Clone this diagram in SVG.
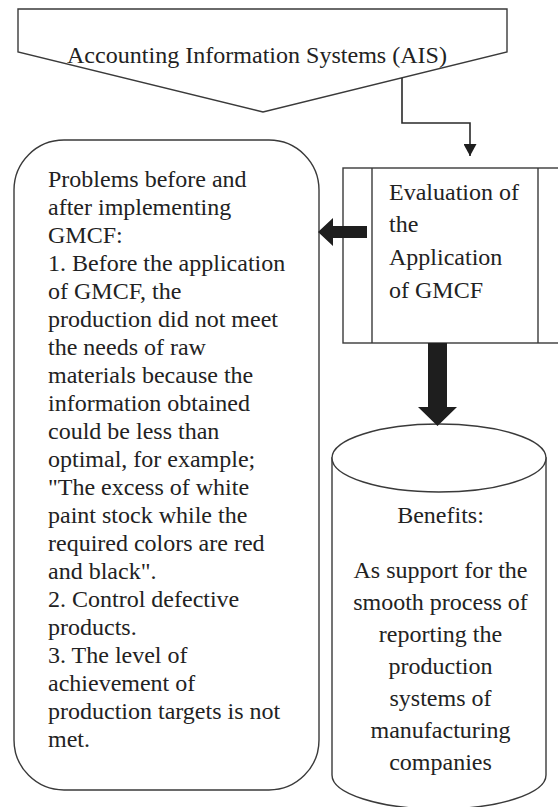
<svg xmlns="http://www.w3.org/2000/svg" width="558" height="807" viewBox="0 0 558 807">
<defs>
<marker id="ah" viewBox="0 0 12 13" refX="12" refY="6.5" markerWidth="12" markerHeight="13" markerUnits="userSpaceOnUse" orient="auto">
<path d="M0,0 L12,6.5 L0,13 Z" fill="#1e1e1e"/>
</marker>
</defs>
<rect width="558" height="807" fill="#ffffff"/>
<g id="ais">
<polygon fill="#ffffff" stroke="#3a3a3a" stroke-width="1.4" points="18,9 507,9 507,52 263,112 18,52"/>
<text font-family="Times New Roman, Liberation Serif, Tinos, serif" font-size="24" fill="#222222" x="67" y="63" textLength="380" lengthAdjust="spacingAndGlyphs">Accounting Information Systems (AIS)</text>
</g>
<g id="problems">
<rect fill="#ffffff" stroke="#3a3a3a" stroke-width="1.4" x="14" y="140" width="305" height="650" rx="50" ry="50"/>
<g font-family="Times New Roman, Liberation Serif, Tinos, serif" font-size="24" fill="#222222">
<text x="48" y="187">Problems before and</text>
<text x="48" y="215">after implementing</text>
<text x="48" y="243">GMCF:</text>
<text x="48" y="271">1. Before the application</text>
<text x="48" y="299">of GMCF, the</text>
<text x="48" y="327">production did not meet</text>
<text x="48" y="355">the needs of raw</text>
<text x="48" y="383">materials because the</text>
<text x="48" y="411">information obtained</text>
<text x="48" y="439">could be less than</text>
<text x="48" y="467">optimal, for example;</text>
<text x="48" y="495">"The excess of white</text>
<text x="48" y="523">paint stock while the</text>
<text x="48" y="551">required colors are red</text>
<text x="48" y="579">and black".</text>
<text x="48" y="607">2. Control defective</text>
<text x="48" y="635">products.</text>
<text x="48" y="663">3. The level of</text>
<text x="48" y="691">achievement of</text>
<text x="48" y="719">production targets is not</text>
<text x="48" y="747">met.</text>
</g>
</g>
<g id="evaluation">
<g fill="#ffffff" stroke="#3a3a3a" stroke-width="1.4">
<rect x="343" y="168" width="230" height="175"/>
<line x1="372" y1="168" x2="372" y2="343"/>
<line x1="538" y1="168" x2="538" y2="343"/>
</g>
<g font-family="Times New Roman, Liberation Serif, Tinos, serif" font-size="24" fill="#222222">
<text x="389" y="200">Evaluation of</text>
<text x="389" y="232">the</text>
<text x="389" y="265">Application</text>
<text x="389" y="298">of GMCF</text>
</g>
</g>
<g id="benefits">
<g fill="#ffffff" stroke="#3a3a3a" stroke-width="1.4">
<path d="M332,458 L332,775 A107,34 0 0 0 546,775 L546,458 Z"/>
<ellipse cx="439" cy="458" rx="107" ry="34"/>
</g>
<g font-family="Times New Roman, Liberation Serif, Tinos, serif" font-size="24" fill="#222222" text-anchor="middle">
<text x="440.5" y="523">Benefits:</text>
<text x="440.5" y="578">As support for the</text>
<text x="440.5" y="610">smooth process of</text>
<text x="440.5" y="642">reporting the</text>
<text x="440.5" y="674">production</text>
<text x="440.5" y="706">systems of</text>
<text x="440.5" y="738">manufacturing</text>
<text x="440.5" y="770">companies</text>
</g>
</g>
<g id="connectors">
<polyline fill="none" stroke="#2a2a2a" stroke-width="1.6" points="402,78 402,123 470,123 470,156" marker-end="url(#ah)"/>
<g fill="#1e1e1e">
<polygon points="367,226 333,226 333,218 318,232 333,246 333,238 367,238"/>
<polygon points="428,343 447,343 447,407 457,407 437.5,426 418,407 428,407"/>
</g>
</g>
</svg>
